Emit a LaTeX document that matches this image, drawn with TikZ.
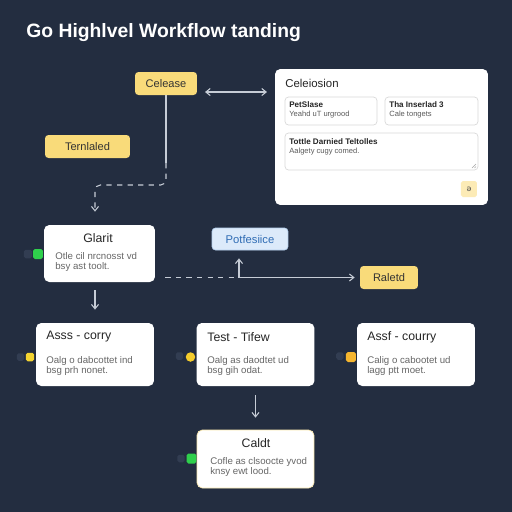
\documentclass[tikz,border=0pt]{standalone}
\usepackage{fontspec}
\setmainfont{Liberation Sans}
\newfontfamily\glyphfont{DejaVu Sans}
\usetikzlibrary{arrows.meta}
\definecolor{bgnavy}{HTML}{232D40}
\definecolor{tagyellow}{HTML}{F9DB7A}
\definecolor{linegray}{HTML}{C6CCD6}
\definecolor{portdark}{HTML}{323D52}
\definecolor{portgreen}{HTML}{2FD04C}
\definecolor{portyellow}{HTML}{F4D431}
\definecolor{portorange}{HTML}{F6B62F}
\definecolor{bluefill}{HTML}{DCEAFA}
\definecolor{blueline}{HTML}{B5D0EE}
\definecolor{bluetext}{HTML}{2F6CB4}
\tikzset{
  tag/.style={fill=tagyellow, rounded corners=2pt, inner sep=0pt, text=black!80,
    font=\fontsize{6.3}{7}\selectfont, minimum height=0.46cm},
  card/.style={fill=white, rounded corners=3pt, inner sep=0pt, minimum width=2.36cm, minimum height=1.26cm},
  cardtitle/.style={inner sep=0pt, text=black!85, font=\fontsize{7}{8}\selectfont},
  cardbody/.style={inner sep=0pt, anchor=west, text=black!60, font=\fontsize{5.5}{6}\selectfont},
  subbox/.style={fill=white, draw=black!15, line width=0.4pt, rounded corners=2pt, inner sep=0pt},
  subhead/.style={inner sep=0pt, anchor=west, text=black!85, font=\fontsize{4.6}{5}\selectfont\bfseries},
  subtext/.style={inner sep=0pt, anchor=west, text=black!65, font=\fontsize{4.3}{5}\selectfont},
  port/.style={rounded corners=1pt, inner sep=0pt, minimum size=0.17cm},
  link/.style={draw=linegray, line width=0.6pt},
  tip/.style={-{Straight Barb[length=2.5pt,width=4pt]}}
}
\begin{document}
\begin{tikzpicture}[x=0.02cm,y=-0.02cm]
\fill[bgnavy] (0,0) rectangle (512,512);
\useasboundingbox (0,0) rectangle (512,512);
% title
\node[anchor=west, inner sep=0pt, text=white, font=\fontsize{11}{13}\selectfont\bfseries] (title) at (26,33) {Go Highlvel Workflow tanding};
% top left tags
\node[tag, minimum width=1.24cm] (celease) at (166,83.5) {Celease};
\node[tag, minimum width=1.7cm] (ternl) at (87.5,146.5) {Ternlaled};
% settings panel
\node[fill=white, rounded corners=3pt, inner sep=0pt, minimum width=4.26cm, minimum height=2.72cm] (panel) at (381.5,137) {};
\node[anchor=west, inner sep=0pt, text=black!85, font=\fontsize{6.5}{7}\selectfont] (paneltitle) at (285,83) {Celeiosion};
\node[subbox, minimum width=1.84cm, minimum height=0.56cm] (boxa) at (331,111) {};
\node[subbox, minimum width=1.86cm, minimum height=0.56cm] (boxb) at (431.5,111) {};
\node[subbox, minimum width=3.86cm, minimum height=0.74cm] (boxc) at (381.5,151.5) {};
\node[subhead] (boxahead) at (289,105) {PetSlase};
\node[subtext] (boxatext) at (289,115) {Yeahd uT urgrood};
\node[subhead] (boxbhead) at (389,105) {Tha Inserlad 3};
\node[subtext] (boxbtext) at (389,115) {Cale tongets};
\node[subhead] (boxchead) at (289,142) {Tottle Darnied Teltolles};
\node[subtext] (boxctext) at (289,152) {Aalgety cugy comed.};
\draw[black!35, line width=0.3pt] (472,168)--(476,164) (474.5,168)--(476,166.5);
\node[fill=tagyellow!55, rounded corners=1pt, inner sep=0pt, minimum size=0.32cm, font=\glyphfont\fontsize{4.5}{5}\selectfont, text=black!70] (panelbtn) at (469,189) {ə};
% link celease <-> panel
\coordinate (dblA) at (205,92);
\coordinate (dblB) at (267,92);
\draw[link, {Straight Barb[length=2.5pt,width=4pt]}-{Straight Barb[length=2.5pt,width=4pt]}] (dblA) -- (dblB);
% giant card
\node[card, minimum width=2.22cm, minimum height=1.14cm] (giant) at (99.5,253.5) {};
\node[cardtitle] (gianttitle) at (98,238) {Glarit};
\node[cardbody] (giantbody1) at (55,256) {Otle cil nrcnosst vd};
\node[cardbody] (giantbody2) at (55,267) {bsy ast toolt.};
\node[port, fill=portdark] (giantportA) at (28,254) {};
\node[port, fill=portgreen, minimum size=0.2cm] (giantportB) at (38,254) {};
% celease down to giant
\coordinate (solidend) at (166,163);
\coordinate (bend) at (95,185);
\draw[link] (celease.south) -- (solidend);
\draw[link, dashed, tip, rounded corners=3pt, shorten >=0.26cm] (solidend) -- (166,185) -- (bend) -- (giant.north -| bend);
% small tags middle
\node[fill=bluefill, draw=blueline, line width=0.4pt, rounded corners=2pt, inner sep=0pt, minimum width=1.52cm, minimum height=0.44cm, text=bluetext, font=\fontsize{6.4}{7}\selectfont] (potf) at (250,239) {Potfesiice};
\node[tag, minimum width=1.16cm] (raletd) at (389,277.5) {Raletd};
\coordinate (junc) at (239,277.5);
\draw[link, dashed, shorten <=0.2cm] (giant.east |- junc) -- (junc);
\draw[link, tip, shorten >=0.1cm] (junc) -- (raletd.west);
\draw[link, tip, shorten >=0.16cm] (junc) -- (junc |- potf.south);
% row of cards
\node[card] (carda) at (95,354.5) {};
\node[cardtitle, anchor=west] (cardatitle) at (46,337) {Asss - corry};
\node[cardbody] (cardabody1) at (46,361) {Oalg o dabcottet ind};
\node[cardbody] (cardabody2) at (46,371) {bsg prh nonet.};
\node[port, fill=portdark, minimum size=0.15cm] (cardaportA) at (20.5,357) {};
\node[port, fill=portyellow] (cardaportB) at (30,357) {};
\node[card] (cardb) at (255.5,354.5) {};
\node[cardtitle, anchor=west] (cardbtitle) at (207,337) {Test - Tifew};
\node[cardbody] (cardbbody1) at (207,361) {Oalg as daodtet ud};
\node[cardbody] (cardbbody2) at (207,371) {bsg gih odat.};
\node[port, fill=portdark, minimum size=0.15cm] (cardbportA) at (179.5,356) {};
\node[circle, inner sep=0pt, fill=portyellow!90!orange, minimum size=0.19cm] (cardbportB) at (190.5,357) {};
\node[card] (cardc) at (416,354.5) {};
\node[cardtitle, anchor=west] (cardctitle) at (367,337) {Assf - courry};
\node[cardbody] (cardcbody1) at (367,361) {Calig o cabootet ud};
\node[cardbody] (cardcbody2) at (367,371) {lagg ptt moet.};
\node[port, fill=portdark, minimum size=0.15cm] (cardcportA) at (340,356) {};
\node[port, fill=portorange, minimum size=0.2cm] (cardcportB) at (351,357) {};
\draw[link, tip, shorten <=0.16cm, shorten >=0.26cm] (giant.south -| carda.north) -- (carda.north);
% bottom card
\node[card, draw=tagyellow!60, line width=0.4pt, minimum width=2.34cm, minimum height=1.16cm] (caldt) at (255.5,459) {};
\node[cardtitle] (caldttitle) at (256,443) {Caldt};
\node[cardbody] (caldtbody1) at (210,462) {Cofle as clsoocte yvod};
\node[cardbody] (caldtbody2) at (210,472) {knsy ewt lood.};
\node[port, fill=portdark, minimum size=0.15cm] (caldtportA) at (181,458.5) {};
\node[port, fill=portgreen, minimum size=0.2cm] (caldtportB) at (191.5,458.5) {};
\draw[link, tip, shorten <=0.18cm, shorten >=0.24cm] (cardb.south) -- (caldt.north);
\end{tikzpicture}
\end{document}
